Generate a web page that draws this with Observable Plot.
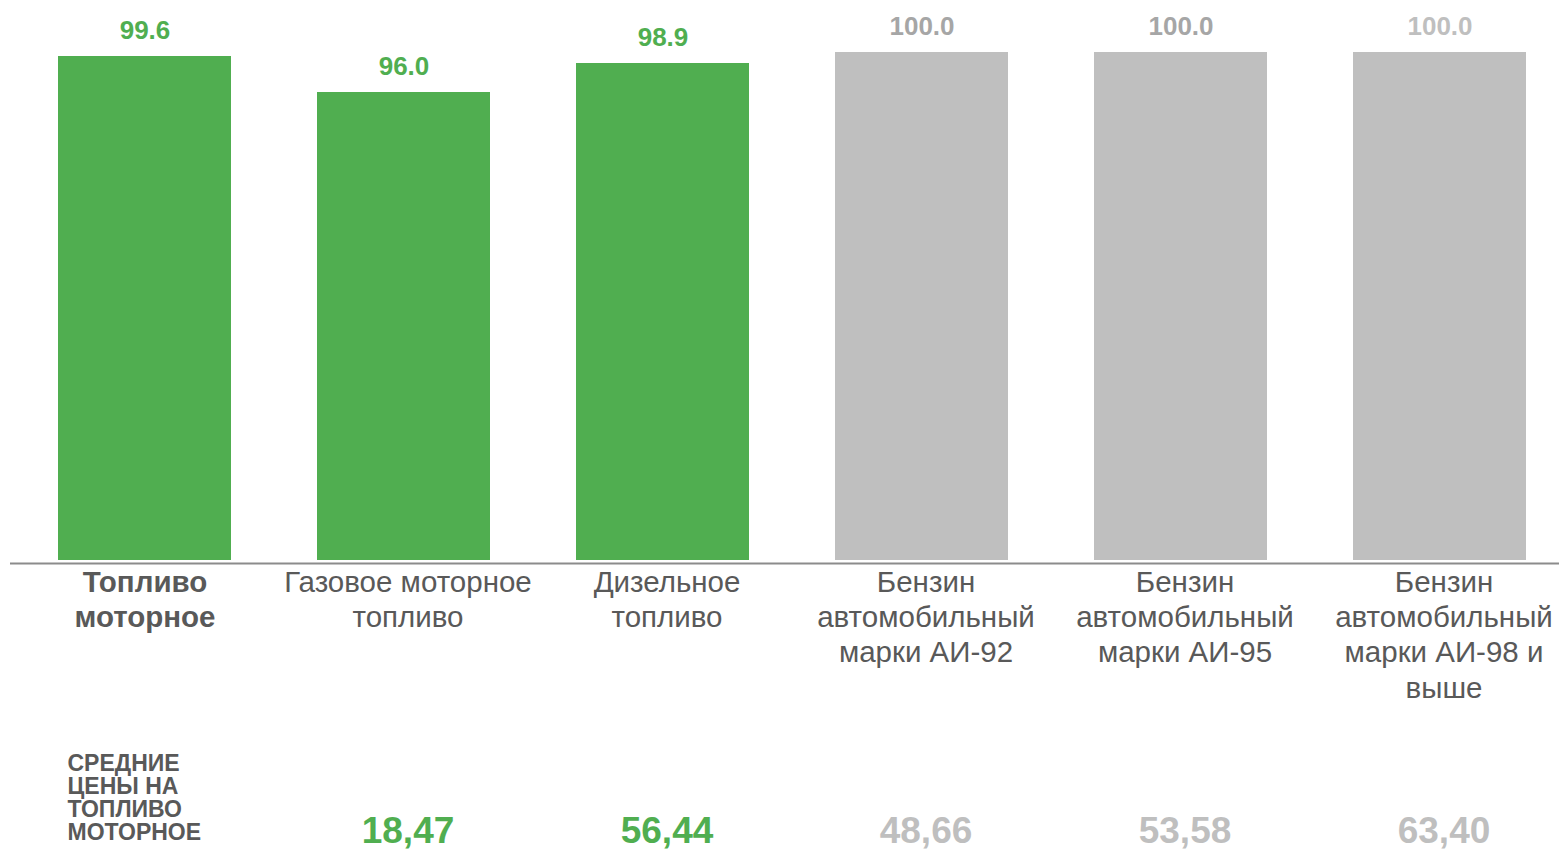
<!DOCTYPE html>
<html><head><meta charset="utf-8">
<script src="https://cdn.jsdelivr.net/npm/d3@7"></script>
<script src="https://cdn.jsdelivr.net/npm/@observablehq/plot@0.6"></script>
<style>body{margin:0;background:#fff;overflow:hidden}</style>
</head><body><div id="chart"></div>
<script>
// ---- data ----
const categories = [
  "Топливо\nмоторное",
  "Газовое моторное\nтопливо",
  "Дизельное\nтопливо",
  "Бензин\nавтомобильный\nмарки АИ-92",
  "Бензин\nавтомобильный\nмарки АИ-95",
  "Бензин\nавтомобильный\nмарки АИ-98 и\nвыше"
];
const indexValues = [99.6, 96.0, 98.9, 100.0, 100.0, 100.0];
const highlighted = [true, true, true, false, false, false];
const priceCategories = categories.slice(1);
const prices = [18.47, 56.44, 48.66, 53.58, 63.40];
const priceTitle = "СРЕДНИЕ\nЦЕНЫ НА\nТОПЛИВО\nМОТОРНОЕ";

// ---- styles ----
const GREEN = "#50AE50", GRAY = "#BFBFBF", TEXT = "#595959";
const valueLabelColors = [GREEN, GREEN, GREEN, "#A6A6A6", "#A6A6A6", "#BFBFBF"];
const yMin = 49.2;

const bars = categories.map((c, i) => ({cat: c, v: indexValues[i], hi: highlighted[i], lc: valueLabelColors[i], first: i === 0}));
const priceRows = priceCategories.map((c, i) => ({cat: c, p: prices[i], hi: highlighted[categories.indexOf(c)]}));
const fmtPrice = p => p.toFixed(2).replace(".", ",");

const chart = Plot.plot({
  width: 1559,
  height: 855,
  marginTop: 52,
  marginBottom: 295,
  marginLeft: 10,
  marginRight: 0,
  style: {fontFamily: "'Liberation Sans', Arial, sans-serif", background: "#fff"},
  x: {domain: categories, paddingInner: 0.331, paddingOuter: 0.151, align: 0.6, axis: null},
  y: {domain: [yMin, 100], axis: null},
  color: {type: "identity"},
  marks: [
    Plot.barY(bars, {x: "cat", y1: () => yMin, y2: "v", fill: d => d.hi ? GREEN : GRAY}),
    Plot.ruleY([yMin], {stroke: "#8C8C8C", strokeWidth: 2, dy: 3}),
    Plot.text(bars, {x: "cat", y: "v", text: d => d.v.toFixed(1), fill: "lc", fontSize: 26, fontWeight: "bold", lineAnchor: "bottom", dy: -18}),
    Plot.text(bars.filter(d => d.first), {x: "cat", frameAnchor: "bottom", text: "cat", fill: TEXT, fontSize: 29.5, fontWeight: "bold", lineAnchor: "top", lineHeight: 1.2, dy: 6}),
    Plot.text(bars.filter(d => !d.first), {x: "cat", frameAnchor: "bottom", text: "cat", fill: TEXT, fontSize: 29.5, lineAnchor: "top", lineHeight: 1.2, dy: 6, dx: 4}),
    Plot.text([priceTitle], {frameAnchor: "bottom-left", text: d => d, fill: TEXT, fontSize: 23, fontWeight: "bold", textAnchor: "start", lineAnchor: "bottom", lineHeight: 1.0, dx: 57, dy: 279}),
    Plot.text(priceRows, {x: "cat", frameAnchor: "bottom", text: d => fmtPrice(d.p), fill: d => d.hi ? GREEN : GRAY, fontSize: 37, fontWeight: "bold", lineAnchor: "bottom", dy: 282, dx: 4})
  ]
});
document.getElementById("chart").appendChild(chart);
</script>
</body></html>
